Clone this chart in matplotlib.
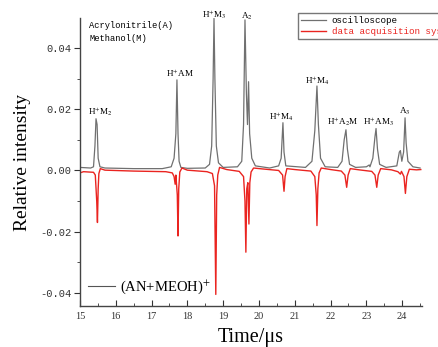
import matplotlib
matplotlib.use("Agg")
import matplotlib.pyplot as plt
from matplotlib.lines import Line2D
from matplotlib.ticker import MultipleLocator, FormatStrFormatter

plt.rcParams['mathtext.fontset'] = 'stix'

# trace de l'oscilloscope
osc_t = [15.00, 15.30, 15.38, 15.42, 15.45, 15.48, 15.51, 15.56, 15.70, 16.50,
         17.30, 17.55, 17.63, 17.68, 17.71, 17.74, 17.77, 17.82, 18.00, 18.50,
         18.62, 18.68, 18.72, 18.745, 18.77, 18.81, 18.87, 19.00, 19.40, 19.52,
         19.57, 19.61, 19.65, 19.68, 19.71, 19.74, 19.80, 19.90, 20.30, 20.55,
         20.62, 20.67, 20.70, 20.75, 21.30, 21.48, 21.56, 21.62, 21.66, 21.72,
         21.85, 22.20, 22.32, 22.38, 22.43, 22.47, 22.53, 22.70, 23.00, 23.08,
         23.10, 23.18, 23.24, 23.27, 23.31, 23.37, 23.55, 23.85, 23.92, 23.95,
         23.99, 24.04, 24.08, 24.11, 24.16, 24.30, 24.50]
osc_y = [0.0010, 0.0008, 0.0012, 0.0080, 0.0169, 0.0150, 0.0040, 0.0012, 0.0008, 0.0006,
         0.0006, 0.0012, 0.0040, 0.0120, 0.0296, 0.0120, 0.0030, 0.0010, 0.0007, 0.0008,
         0.0020, 0.0080, 0.0300, 0.0497, 0.0300, 0.0080, 0.0025, 0.0010, 0.0012, 0.0030,
         0.0150, 0.0492, 0.0250, 0.0150, 0.0290, 0.0120, 0.0040, 0.0015, 0.0008, 0.0015,
         0.0040, 0.0156, 0.0060, 0.0015, 0.0010, 0.0030, 0.0130, 0.0276, 0.0150, 0.0040,
         0.0012, 0.0010, 0.0030, 0.0100, 0.0133, 0.0070, 0.0020, 0.0010, 0.0012, 0.0018,
         0.0012, 0.0040, 0.0110, 0.0137, 0.0070, 0.0020, 0.0010, 0.0015, 0.0060, 0.0065,
         0.0030, 0.0060, 0.0172, 0.0090, 0.0030, 0.0012, 0.0008]

# systeme d'acquisition (signal inverse)
daq_t = [15.00, 15.10, 15.38, 15.43, 15.47, 15.49, 15.51, 15.53, 15.57, 15.70,
         16.50, 17.40, 17.58, 17.63, 17.66, 17.68, 17.72, 17.74, 17.76, 17.79,
         17.85, 18.00, 18.55, 18.70, 18.76, 18.795, 18.82, 18.85, 18.90, 19.10,
         19.45, 19.57, 19.61, 19.635, 19.66, 19.69, 19.72, 19.745, 19.78, 19.85,
         20.10, 20.55, 20.66, 20.70, 20.73, 20.78, 21.00, 21.45, 21.56, 21.60,
         21.62, 21.645, 21.68, 21.74, 22.00, 22.30, 22.40, 22.45, 22.49, 22.55,
         22.80, 23.15, 23.24, 23.29, 23.33, 23.40, 23.70, 23.88, 23.95, 23.98,
         24.05, 24.09, 24.13, 24.20, 24.40, 24.52]
daq_y = [-0.0008, -0.0004, -0.0006, -0.0015, -0.0100, -0.0170, -0.0060, -0.0010, 0.0006, 0.0001,
         -0.0002, -0.0004, -0.0008, -0.0020, -0.0045, -0.0015, -0.0080, -0.0214, -0.0060, -0.0005,
         0.0008, 0.0001, -0.0004, -0.0010, -0.0050, -0.0405, -0.0080, -0.0015, 0.0010, 0.0003,
         -0.0003, -0.0020, -0.0100, -0.0267, -0.0060, -0.0040, -0.0175, -0.0040, -0.0005, 0.0008,
         0.0005, 0.0000, -0.0015, -0.0068, -0.0020, 0.0006, 0.0003, -0.0002, -0.0020, -0.0080,
         -0.0180, -0.0060, -0.0008, 0.0008, 0.0003, -0.0002, -0.0015, -0.0055, -0.0015, 0.0006,
         0.0002, -0.0003, -0.0015, -0.0055, -0.0015, 0.0006, 0.0002, -0.0004, -0.0012, -0.0003,
         -0.0020, -0.0075, -0.0020, 0.0004, 0.0002, 0.0003]

# attribution des pics
pic_noms = [r'H$^{+}$M$_{2}$', r'H$^{+}$AM', r'H$^{+}$M$_{3}$', r'A$_{2}$', r'H$^{+}$M$_{4}$',
            r'H$^{+}$M$_{4}$', r'H$^{+}$A$_{2}$M', r'H$^{+}$AM$_{3}$', r'A$_{3}$']
pic_t = [15.56, 17.79, 18.74, 19.66, 20.64, 21.62, 22.34, 23.33, 24.08]
pic_y = [0.0191, 0.0318, 0.0508, 0.0505, 0.0176, 0.0293, 0.0160, 0.0160, 0.0193]

fig = plt.figure(figsize=(4.39, 3.47), dpi=100)
ax = fig.add_axes([0.182, 0.118, 0.779, 0.830])

l1, = ax.plot(osc_t, osc_y, color='#707070', lw=0.9, label='oscilloscope')
l2, = ax.plot(daq_t, daq_y, color='#ea2420', lw=1.0, label='data acquisition system')

for nom, t, y in zip(pic_noms, pic_t, pic_y):
    ax.text(t, y, nom, ha='center', va='center', fontsize=6.6,
            family='Liberation Serif')

ax.text(0.028, 0.99, 'Acrylonitrile(A)\nMethanol(M)', transform=ax.transAxes,
        ha='left', va='top', fontsize=6.3, family='Liberation Mono', linespacing=1.55)

ax.set_xlim(15, 24.55)
ax.set_ylim(-0.0443, 0.0498)
ax.xaxis.set_major_locator(MultipleLocator(1))
ax.xaxis.set_minor_locator(MultipleLocator(0.5))
ax.yaxis.set_major_locator(MultipleLocator(0.02))
ax.yaxis.set_minor_locator(MultipleLocator(0.01))
ax.yaxis.set_major_formatter(FormatStrFormatter('%.2f'))

for s in ['top', 'right']:
    ax.spines[s].set_visible(False)
for s in ['left', 'bottom']:
    ax.spines[s].set_color('#444444')
    ax.spines[s].set_linewidth(1.0)

ax.tick_params(axis='x', which='major', direction='in', length=4, pad=4, labelsize=7.5)
ax.tick_params(axis='x', which='minor', direction='in', length=2)
ax.tick_params(axis='y', which='major', direction='out', length=4, pad=2, labelsize=7.5)
ax.tick_params(axis='y', which='minor', direction='out', length=2)
ax.tick_params(colors='#333333', which='both')
for lab in ax.get_xticklabels():
    lab.set_family('Liberation Serif')
for lab in ax.get_yticklabels():
    lab.set_family('Liberation Mono')

ax.set_xlabel('Time/μs', fontsize=14.5, family='Liberation Serif', labelpad=5)
ax.set_ylabel('Relative intensity', fontsize=14, family='Liberation Serif', labelpad=7)

leg = fig.legend(handles=[l1, l2], loc='upper left', bbox_to_anchor=(0.668, 0.975),
                 prop={'family': 'Liberation Mono', 'size': 6.6}, frameon=True,
                 fancybox=False, handlelength=2.8, handletextpad=0.6,
                 borderpad=0.3, labelspacing=0.25)
leg.get_frame().set_edgecolor('#555555')
leg.get_frame().set_linewidth(1.0)
leg.get_texts()[1].set_color('#ea2420')

h3 = Line2D([], [], color='#555555', lw=0.8)
leg2 = ax.legend(handles=[h3], labels=[r'(AN+MEOH)$^{+}$'], loc='lower left',
                 bbox_to_anchor=(-0.005, 0.0), frameon=False,
                 prop={'family': 'Liberation Serif', 'size': 10.5},
                 handlelength=1.8, handletextpad=0.35, borderpad=0.2)

fig.savefig('out.png', dpi=100)
